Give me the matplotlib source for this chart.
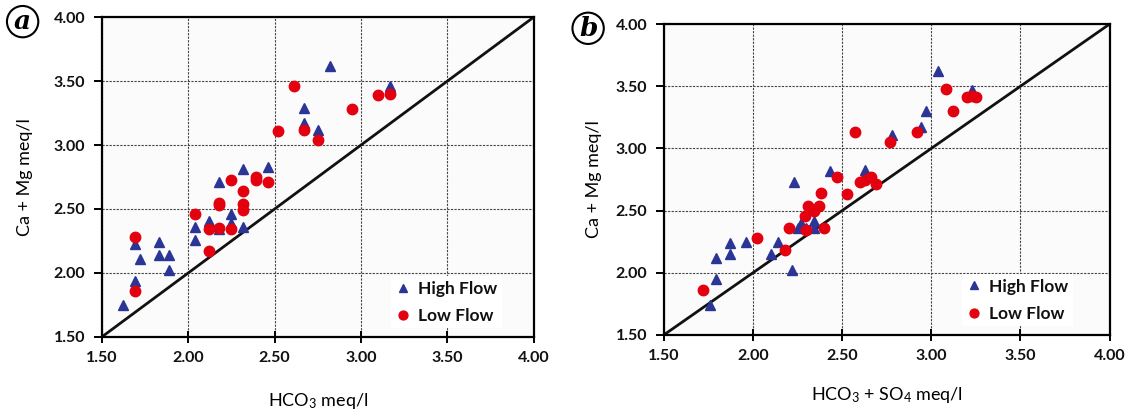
import matplotlib.pyplot as plt

plt.rcParams['font.family'] = ['Lato', 'DejaVu Sans']
plt.rcParams['mathtext.default'] = 'regular'

# panel a: HCO3 vs Ca+Mg
a_high_x = [1.62, 1.69, 1.69, 1.72, 1.83, 1.83, 1.89, 1.89, 2.04, 2.04, 2.12, 2.18,
            2.18, 2.25, 2.25, 2.32, 2.32, 2.46, 2.67, 2.67, 2.75, 2.82, 3.17]
a_high_y = [1.75, 1.94, 2.23, 2.11, 2.24, 2.14, 2.14, 2.02, 2.26, 2.36, 2.41, 2.71,
            2.34, 2.46, 2.39, 2.36, 2.81, 2.83, 3.29, 3.17, 3.12, 3.62, 3.46]
a_low_x = [1.69, 1.69, 2.04, 2.12, 2.12, 2.18, 2.18, 2.18, 2.25, 2.25, 2.32, 2.32,
           2.32, 2.39, 2.39, 2.46, 2.52, 2.61, 2.67, 2.75, 2.95, 3.10, 3.17]
a_low_y = [2.28, 1.86, 2.46, 2.17, 2.34, 2.53, 2.55, 2.35, 2.34, 2.73, 2.64, 2.54,
           2.49, 2.75, 2.73, 2.71, 3.11, 3.46, 3.12, 3.04, 3.28, 3.39, 3.40]

# panel b: HCO3+SO4 vs Ca+Mg
b_high_x = [1.76, 1.79, 1.79, 1.87, 1.87, 1.96, 2.10, 2.14, 2.22, 2.25, 2.27, 2.30,
            2.34, 2.34, 2.23, 2.43, 2.63, 2.78, 2.94, 2.97, 3.04, 3.23]
b_high_y = [1.74, 1.95, 2.12, 2.15, 2.24, 2.25, 2.15, 2.25, 2.02, 2.36, 2.40, 2.36,
            2.42, 2.36, 2.73, 2.82, 2.83, 3.11, 3.17, 3.30, 3.62, 3.47]
b_low_x = [1.72, 2.02, 2.18, 2.20, 2.30, 2.29, 2.31, 2.34, 2.37, 2.38, 2.40, 2.53,
           2.47, 2.57, 2.60, 2.63, 2.66, 2.69, 2.77, 2.92, 3.08, 3.12, 3.20, 3.23, 3.25]
b_low_y = [1.86, 2.28, 2.18, 2.36, 2.34, 2.46, 2.54, 2.50, 2.54, 2.64, 2.36, 2.63,
           2.77, 3.13, 2.73, 2.75, 2.77, 2.71, 3.05, 3.13, 3.48, 3.30, 3.41, 3.42, 3.41]

ticks = [1.5, 2.0, 2.5, 3.0, 3.5, 4.0]
tick_labels = ['1.50', '2.00', '2.50', '3.00', '3.50', '4.00']

BLUE = '#2b3595'
RED = '#e3000f'

fig = plt.figure(figsize=(11.31, 4.16), dpi=100)
ax_a = fig.add_axes([0.090, 0.190, 0.382, 0.769])
ax_b = fig.add_axes([0.587, 0.195, 0.394, 0.747])

panels = [
    (ax_a, a_high_x, a_high_y, a_low_x, a_low_y, 'HCO$_3$ meq/l', 'a', (0.020, 0.948), 15, 19),
    (ax_b, b_high_x, b_high_y, b_low_x, b_low_y, 'HCO$_3$ + SO$_4$ meq/l', 'b', (0.520, 0.932), 10, 16),
]

for ax, hx, hy, lx, ly, xlabel, tag, tagpos, ypad, xpad in panels:
    ax.set_facecolor('#fbfbfb')
    ax.set_xlim(1.5, 4.0)
    ax.set_ylim(1.5, 4.0)
    ax.set_xticks(ticks)
    ax.set_xticklabels(tick_labels)
    ax.set_yticks(ticks)
    ax.set_yticklabels(tick_labels)
    ax.grid(True, color='#444444', linestyle=(0, (2, 1.2)), linewidth=0.8)
    ax.set_axisbelow(True)
    for sp in ax.spines.values():
        sp.set_linewidth(1.6)
        sp.set_color('black')
    ax.tick_params(axis='y', direction='out', length=6, width=1.4, pad=6,
                   labelsize=11.5, labelcolor='#111111')
    ax.tick_params(axis='x', direction='inout', length=8, width=1.4, pad=6,
                   labelsize=11.5, labelcolor='#111111')
    for lab in ax.get_xticklabels() + ax.get_yticklabels():
        lab.set_fontweight('bold')

    ax.plot([1.5, 4.0], [1.5, 4.0], color='#111111', linewidth=2, zorder=2)
    ax.plot(hx, hy, linestyle='none', marker='^', markersize=7.5, color=BLUE,
            label='High Flow', zorder=3)
    ax.plot(lx, ly, linestyle='none', marker='o', markersize=7.5, color=RED,
            label='Low Flow', zorder=4)

    ax.set_xlabel(xlabel, fontsize=13, labelpad=xpad)
    ax.set_ylabel('Ca + Mg meq/l', fontsize=13, labelpad=ypad)

    leg = ax.legend(loc='lower left', bbox_to_anchor=(0.65, 0.0), frameon=True,
                    fancybox=False, edgecolor='none', facecolor='white', framealpha=1,
                    handlelength=0.8, handletextpad=0.5, labelspacing=0.65,
                    borderpad=0.25, markerscale=0.85,
                    prop={'weight': 'bold', 'size': 12.5})
    for t in leg.get_texts():
        t.set_color('#111111')

    fig.text(tagpos[0], tagpos[1], tag, fontsize=19, fontweight='bold', style='italic',
             family='DejaVu Serif', ha='center', va='center',
             bbox=dict(boxstyle='circle,pad=0.12', facecolor='white',
                       edgecolor='black', linewidth=1.5))

fig.savefig('out.png', dpi=100, facecolor='white')
